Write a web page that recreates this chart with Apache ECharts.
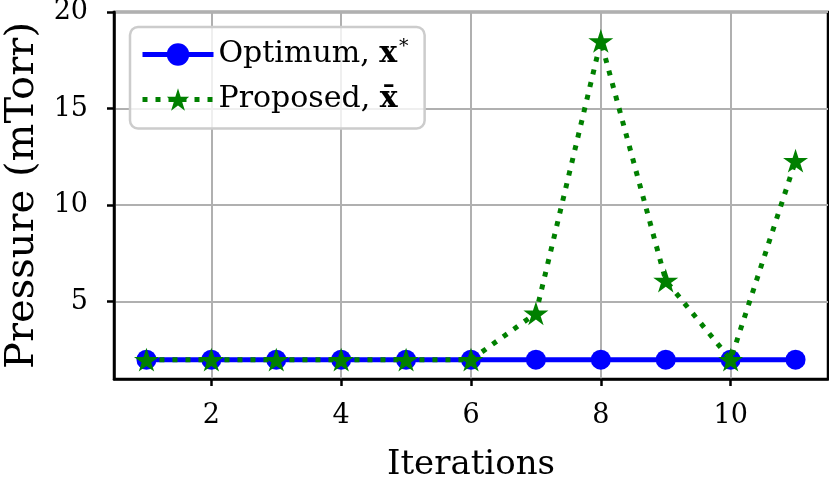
<!DOCTYPE html>
<html>
<head>
<meta charset="utf-8">
<script src="https://cdn.jsdelivr.net/npm/echarts@6/dist/echarts.min.js"></script>
<style>html,body{margin:0;padding:0;background:#fff;}#c{width:829px;height:485px;}</style>
</head>
<body>
<div id="c"></div>
<script>
const iterations = [1, 2, 3, 4, 5, 6, 7, 8, 9, 10, 11];
const optimum = [2, 2, 2, 2, 2, 2, 2, 2, 2, 2, 2];
const proposed = [2, 2, 2, 2, 2, 2, 4.4, 18.5, 6.1, 2, 12.3];
const xTicks = [2, 4, 6, 8, 10];
const yTicks = [5, 10, 15, 20];

function starPath() {
  const pts = [];
  for (let i = 0; i < 10; i++) {
    const r = i % 2 ? 0.381966 : 1;
    const a = -Math.PI / 2 + i * Math.PI / 5;
    pts.push((r * Math.cos(a)).toFixed(4) + ',' + (r * Math.sin(a)).toFixed(4));
  }
  return 'path://M' + pts.join('L') + 'Z';
}

const FONT = 'DejaVu Serif';
const chart = echarts.init(document.getElementById('c'), null, {renderer: 'canvas'});
chart.setOption({
  animation: false,
  backgroundColor: '#fff',
  grid: {left: 114, top: 12, right: 1, bottom: 106, show: true, borderColor: '#000', borderWidth: 2.5,
         backgroundColor: 'transparent', containLabel: false, outerBoundsMode: 'none'},
  xAxis: {
    type: 'value', min: 0.5, max: 11.5,
    name: 'Iterations', nameLocation: 'middle', nameGap: 69,
    nameTextStyle: {fontFamily: FONT, fontSize: 34, color: '#000'},
    axisLine: {lineStyle: {color: '#000', width: 2.5}},
    axisTick: {show: true, inside: false, length: 7, lineStyle: {color: '#000', width: 2.5}, customValues: xTicks},
    axisLabel: {fontFamily: FONT, fontSize: 27, color: '#000', margin: 23, customValues: xTicks},
    splitLine: {show: true, lineStyle: {color: '#b0b0b0', width: 2}}
  },
  yAxis: {
    type: 'value', min: 1, max: 20,
    name: 'Pressure (mTorr)', nameLocation: 'middle', nameGap: 70,
    nameTextStyle: {fontFamily: FONT, fontSize: 40, color: '#000'},
    axisLine: {show: true, lineStyle: {color: '#000', width: 2.5}},
    axisTick: {show: true, inside: false, length: 7, lineStyle: {color: '#000', width: 2.5}, customValues: yTicks},
    axisLabel: {fontFamily: FONT, fontSize: 27, color: '#000', margin: 26, customValues: yTicks},
    splitLine: {show: true, lineStyle: {color: '#b0b0b0', width: 2}}
  },
  legend: {
    orient: 'vertical', left: 130, top: 27,
    padding: [11, 16, 14, 10],
    itemWidth: 71, itemHeight: 28, itemGap: 15,
    backgroundColor: 'rgba(255,255,255,0.8)',
    borderColor: '#cccccc', borderWidth: 2.5, borderRadius: 8,
    textStyle: {
      fontFamily: FONT, fontSize: 30, color: '#000',
      rich: {
        n: {fontFamily: FONT, fontSize: 30, color: '#000'},
        b: {fontFamily: FONT, fontSize: 30, fontWeight: 'bold', color: '#000'},
        s: {fontFamily: FONT, fontSize: 19, color: '#000', padding: [0, 0, 14, 2]}
      }
    },
    formatter: function (name) {
      return name === 'Optimum' ? '{n|Optimum, }{b|x}{s|*}' : '{n|Proposed, }{b|x\u0304}';
    },
    data: [
      {name: 'Optimum', lineStyle: {width: 5, color: '#0000ff'}},
      {name: 'Proposed', lineStyle: {width: 5, color: '#008000', type: [5, 8], cap: 'butt'}}
    ]
  },
  series: [
    {
      name: 'Optimum', type: 'line',
      data: iterations.map((x, i) => [x, optimum[i]]),
      symbol: 'circle', symbolSize: 20,
      lineStyle: {color: '#0000ff', width: 5},
      itemStyle: {color: '#0000ff'},
      z: 2
    },
    {
      name: 'Proposed', type: 'line',
      data: iterations.map((x, i) => [x, proposed[i]]),
      symbol: starPath(), symbolSize: 25, symbolKeepAspect: true,
      lineStyle: {color: '#008000', width: 5, type: [5, 8], cap: 'butt'},
      itemStyle: {color: '#008000'},
      z: 3
    }
  ]
});
</script>
</body>
</html>
